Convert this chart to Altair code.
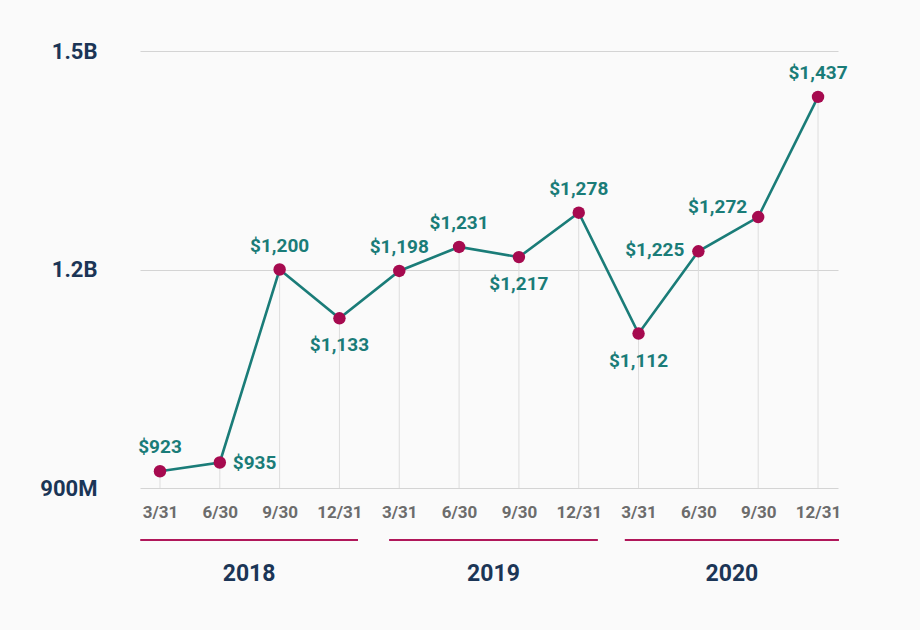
import altair as alt
import pandas as pd

# Quarterly revenue, millions of dollars
quarters = ["3/31", "6/30", "9/30", "12/31"] * 3
years = ["2018"] * 4 + ["2019"] * 4 + ["2020"] * 4
revenue = [923, 935, 1200, 1133, 1198, 1231, 1217, 1278, 1112, 1225, 1272, 1437]
label_pos = ["above", "right", "above", "below", "above", "above",
             "below", "above", "below", "left", "upleft", "above"]

# Year groupings under the quarter axis (index span of each underline)
year_names = ["2018", "2019", "2020"]
year_start = [-0.33, 3.83, 7.77]
year_end = [3.31, 7.32, 11.35]

y_ticks = [900, 1200, 1500]

FONT = "Roboto"
TEAL = "#1a7c78"
MAGENTA = "#a60a4f"
NAVY = "#1b3556"
GRAY = "#6c6c6c"

df = pd.DataFrame({
    "i": list(range(len(revenue))),
    "quarter": quarters,
    "year": years,
    "rev": revenue,
    "pos": label_pos,
})
df["base"] = 900
df["label"] = df["rev"].map(lambda v: f"${v:,}")

yr = pd.DataFrame({"year": year_names, "start": year_start, "end": year_end})
yr["mid"] = (yr["start"] + yr["end"]) / 2

W, H = 698, 437

x_scale = alt.Scale(domain=[-0.334, 11.334], nice=False, zero=False)
y_scale = alt.Scale(domain=[900, 1500], nice=False, zero=False)

quarter_expr = "['3/31','6/30','9/30','12/31'][datum.value % 4]"
y_expr = "datum.value >= 1000 ? format(datum.value / 1000, '.1f') + 'B' : datum.value + 'M'"

base = alt.Chart(df)

x_enc = alt.X(
    "i:Q", scale=x_scale, title=None,
    axis=alt.Axis(values=list(range(12)), labelExpr=quarter_expr, domain=False,
                  ticks=False, grid=False, labelFont=FONT, labelFontSize=17,
                  labelFontWeight="bold", labelColor=GRAY, labelPadding=16),
)
y_enc = alt.Y(
    "rev:Q", scale=y_scale, title=None,
    axis=alt.Axis(values=y_ticks, labelExpr=y_expr, domain=False, ticks=False,
                  grid=True, gridColor="#d4d4d4", gridWidth=1, labelFont=FONT,
                  labelFontSize=22, labelFontWeight="bold", labelColor=NAVY,
                  labelPadding=43),
)

drops = base.mark_rule(color="#dddddd", strokeWidth=1).encode(
    x=x_enc, y=y_enc, y2="base:Q"
)

line = base.mark_line(color=TEAL, strokeWidth=2.6).encode(
    x=alt.X("i:Q", scale=x_scale), y=alt.Y("rev:Q", scale=y_scale)
)

points = base.mark_circle(color=MAGENTA, size=155, opacity=1).encode(
    x=alt.X("i:Q", scale=x_scale), y=alt.Y("rev:Q", scale=y_scale)
)


def value_labels(pos, **kw):
    return base.transform_filter(alt.datum.pos == pos).mark_text(
        font=FONT, fontSize=19, fontWeight="bold", color=TEAL, baseline="middle", **kw
    ).encode(
        x=alt.X("i:Q", scale=x_scale), y=alt.Y("rev:Q", scale=y_scale), text="label:N"
    )


labels = alt.layer(
    value_labels("above", align="center", dy=-24),
    value_labels("below", align="center", dy=27),
    value_labels("right", align="left", dx=13, dy=0),
    value_labels("left", align="right", dx=-14, dy=-1),
    value_labels("upleft", align="right", dx=-11, dy=-10),
)

year_base = alt.Chart(yr)
underline = year_base.mark_rule(color="#b0175a", strokeWidth=2).encode(
    x=alt.X("start:Q", scale=x_scale), x2="end:Q", y=alt.value(489)
)
year_text = year_base.mark_text(
    font=FONT, fontSize=23, fontWeight="bold", color=NAVY, baseline="middle"
).encode(
    x=alt.X("mid:Q", scale=x_scale), y=alt.value(523), text="year:N"
)

chart = alt.layer(drops, line, points, labels, underline, year_text).properties(
    width=W, height=H,
    autosize=alt.AutoSizeParams(type="none"),
    padding={"left": 140, "top": 51, "right": 82, "bottom": 142},
    background="#fafafa",
).configure_view(stroke=None)

chart.save("out.html", embed_options={"renderer": "svg", "actions": False})
